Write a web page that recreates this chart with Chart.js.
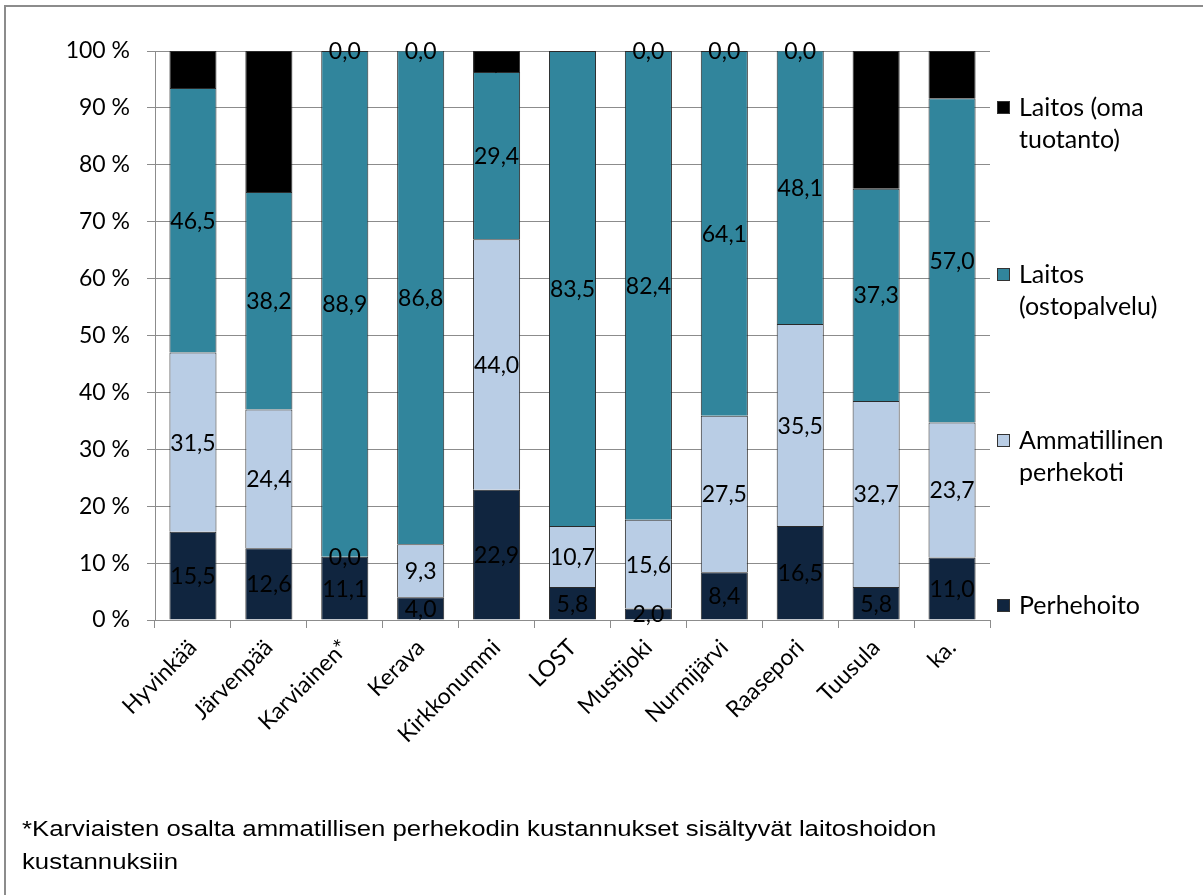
<!DOCTYPE html>
<html>
<head>
<meta charset="utf-8">
<script src="https://cdn.jsdelivr.net/npm/chart.js@4.4.1/dist/chart.umd.min.js"></script>
<style>
    body { margin: 0; background: #fff; overflow: hidden; }
    #frame { position: absolute; left: 4px; top: 5px; width: 1400px; height: 1000px; border: 2px solid #8c8c8c; }
    #note { position: absolute; left: 22px; top: 812px; font: 22px "Liberation Sans", Arial, sans-serif; line-height: 33px; color: #000;
        white-space: nowrap; transform: scaleX(1.17); transform-origin: left top; }
    #chart { position: absolute; left: 0; top: 0; }
</style>
</head>
<body>
<div id="frame"></div>
<canvas id="chart" width="1203" height="895"></canvas>
<div id="note">*Karviaisten osalta ammatillisen perhekodin kustannukset sisältyvät laitoshoidon<br>kustannuksiin</div>
<script>
// Categories
const kunnat = ['Hyvinkää', 'Järvenpää', 'Karviainen*', 'Kerava', 'Kirkkonummi', 'LOST',
    'Mustijoki', 'Nurmijärvi', 'Raasepori', 'Tuusula', 'ka.'];

// Shares (%) per series, bottom to top
const perhehoito = [15.5, 12.6, 11.1, 4.0, 22.9, 5.8, 2.0, 8.4, 16.5, 5.8, 11.0];
const ammatillinen = [31.5, 24.4, 0.0, 9.3, 44.0, 10.7, 15.6, 27.5, 35.5, 32.7, 23.7];
const laitosOsto = [46.5, 38.2, 88.9, 86.8, 29.4, 83.5, 82.4, 64.1, 48.1, 37.3, 57.0];
const laitosOma = [6.5, 24.8, 0.0, 0.0, 3.7, null, 0.0, 0.0, 0.0, 24.2, 8.3];

// Series names (legend lines)
const sarjat = ['Perhehoito', 'Ammatillinen perhekoti', 'Laitos (ostopalvelu)', 'Laitos (oma tuotanto)'];
const legendLines = [['Perhehoito'], ['Ammatillinen', 'perhekoti'], ['Laitos', '(ostopalvelu)'], ['Laitos (oma', 'tuotanto)']];
const colors = ['#10253F', '#B9CDE5', '#31859C', '#000000'];

const FONT = 'Lato, Carlito, sans-serif';

// Value labels in the middle of each segment
const valueLabels = {
    id: 'valueLabels',
    afterDatasetsDraw(chart) {
        const ctx = chart.ctx;
        ctx.save();
        ctx.font = '23px ' + FONT;
        ctx.fillStyle = '#000';
        ctx.textAlign = 'center';
        ctx.textBaseline = 'middle';
        chart.data.datasets.forEach((ds, i) => {
            chart.getDatasetMeta(i).data.forEach((bar, j) => {
                const v = ds.data[j];
                if (v === null) return;
                ctx.fillText(v.toFixed(1).replace('.', ','), bar.x, (bar.y + bar.base) / 2 + 1);
            });
        });
        ctx.restore();
    }
};

// Legend on the right, drawn by hand (multi-line entries)
const sideLegend = {
    id: 'sideLegend',
    afterDraw(chart) {
        const ctx = chart.ctx;
        const rows = [606, 441, 275, 108];
        ctx.save();
        ctx.font = '25px ' + FONT;
        ctx.textBaseline = 'middle';
        legendLines.forEach((lines, i) => {
            const y = rows[i];
            ctx.fillStyle = colors[i];
            ctx.fillRect(997, y - 7, 13, 13);
            ctx.strokeStyle = '#333';
            ctx.lineWidth = 1;
            ctx.strokeRect(997.5, y - 6.5, 12, 12);
            ctx.fillStyle = '#000';
            lines.forEach((t, k) => ctx.fillText(t, 1019, y + k * 32));
        });
        ctx.restore();
    }
};

new Chart(document.getElementById('chart').getContext('2d'), {
    type: 'bar',
    data: {
        labels: kunnat,
        datasets: [perhehoito, ammatillinen, laitosOsto, laitosOma].map((d, i) => ({
            label: sarjat[i],
            data: d,
            backgroundColor: colors[i],
            borderColor: '#2a2a2a',
            borderWidth: 1,
            barPercentage: 0.62,
            categoryPercentage: 1
        }))
    },
    options: {
        responsive: false,
        animation: false,
        layout: { padding: { top: 51, right: 213, left: 0, bottom: 0 } },
        scales: {
            x: {
                stacked: true,
                afterFit: (s) => { s.height = 275; },
                grid: { display: true, drawOnChartArea: false, offset: true, tickLength: 8, color: '#8c8c8c' },
                border: { display: true, color: '#8c8c8c', width: 1 },
                ticks: {
                    minRotation: 45, maxRotation: 45, padding: 6, color: '#000',
                    font: { family: FONT, size: 23 }
                }
            },
            y: {
                stacked: true,
                min: 0, max: 100,
                afterFit: (s) => { s.width = 155; },
                grid: { color: '#8c8c8c', tickLength: 8 },
                border: { display: true, color: '#8c8c8c', width: 1 },
                ticks: {
                    stepSize: 10, padding: 17, color: '#000',
                    font: { family: FONT, size: 23 },
                    callback: (v) => v + ' %'
                }
            }
        },
        plugins: {
            legend: { display: false },
            tooltip: { enabled: false }
        }
    },
    plugins: [valueLabels, sideLegend]
});
</script>
</body>
</html>
